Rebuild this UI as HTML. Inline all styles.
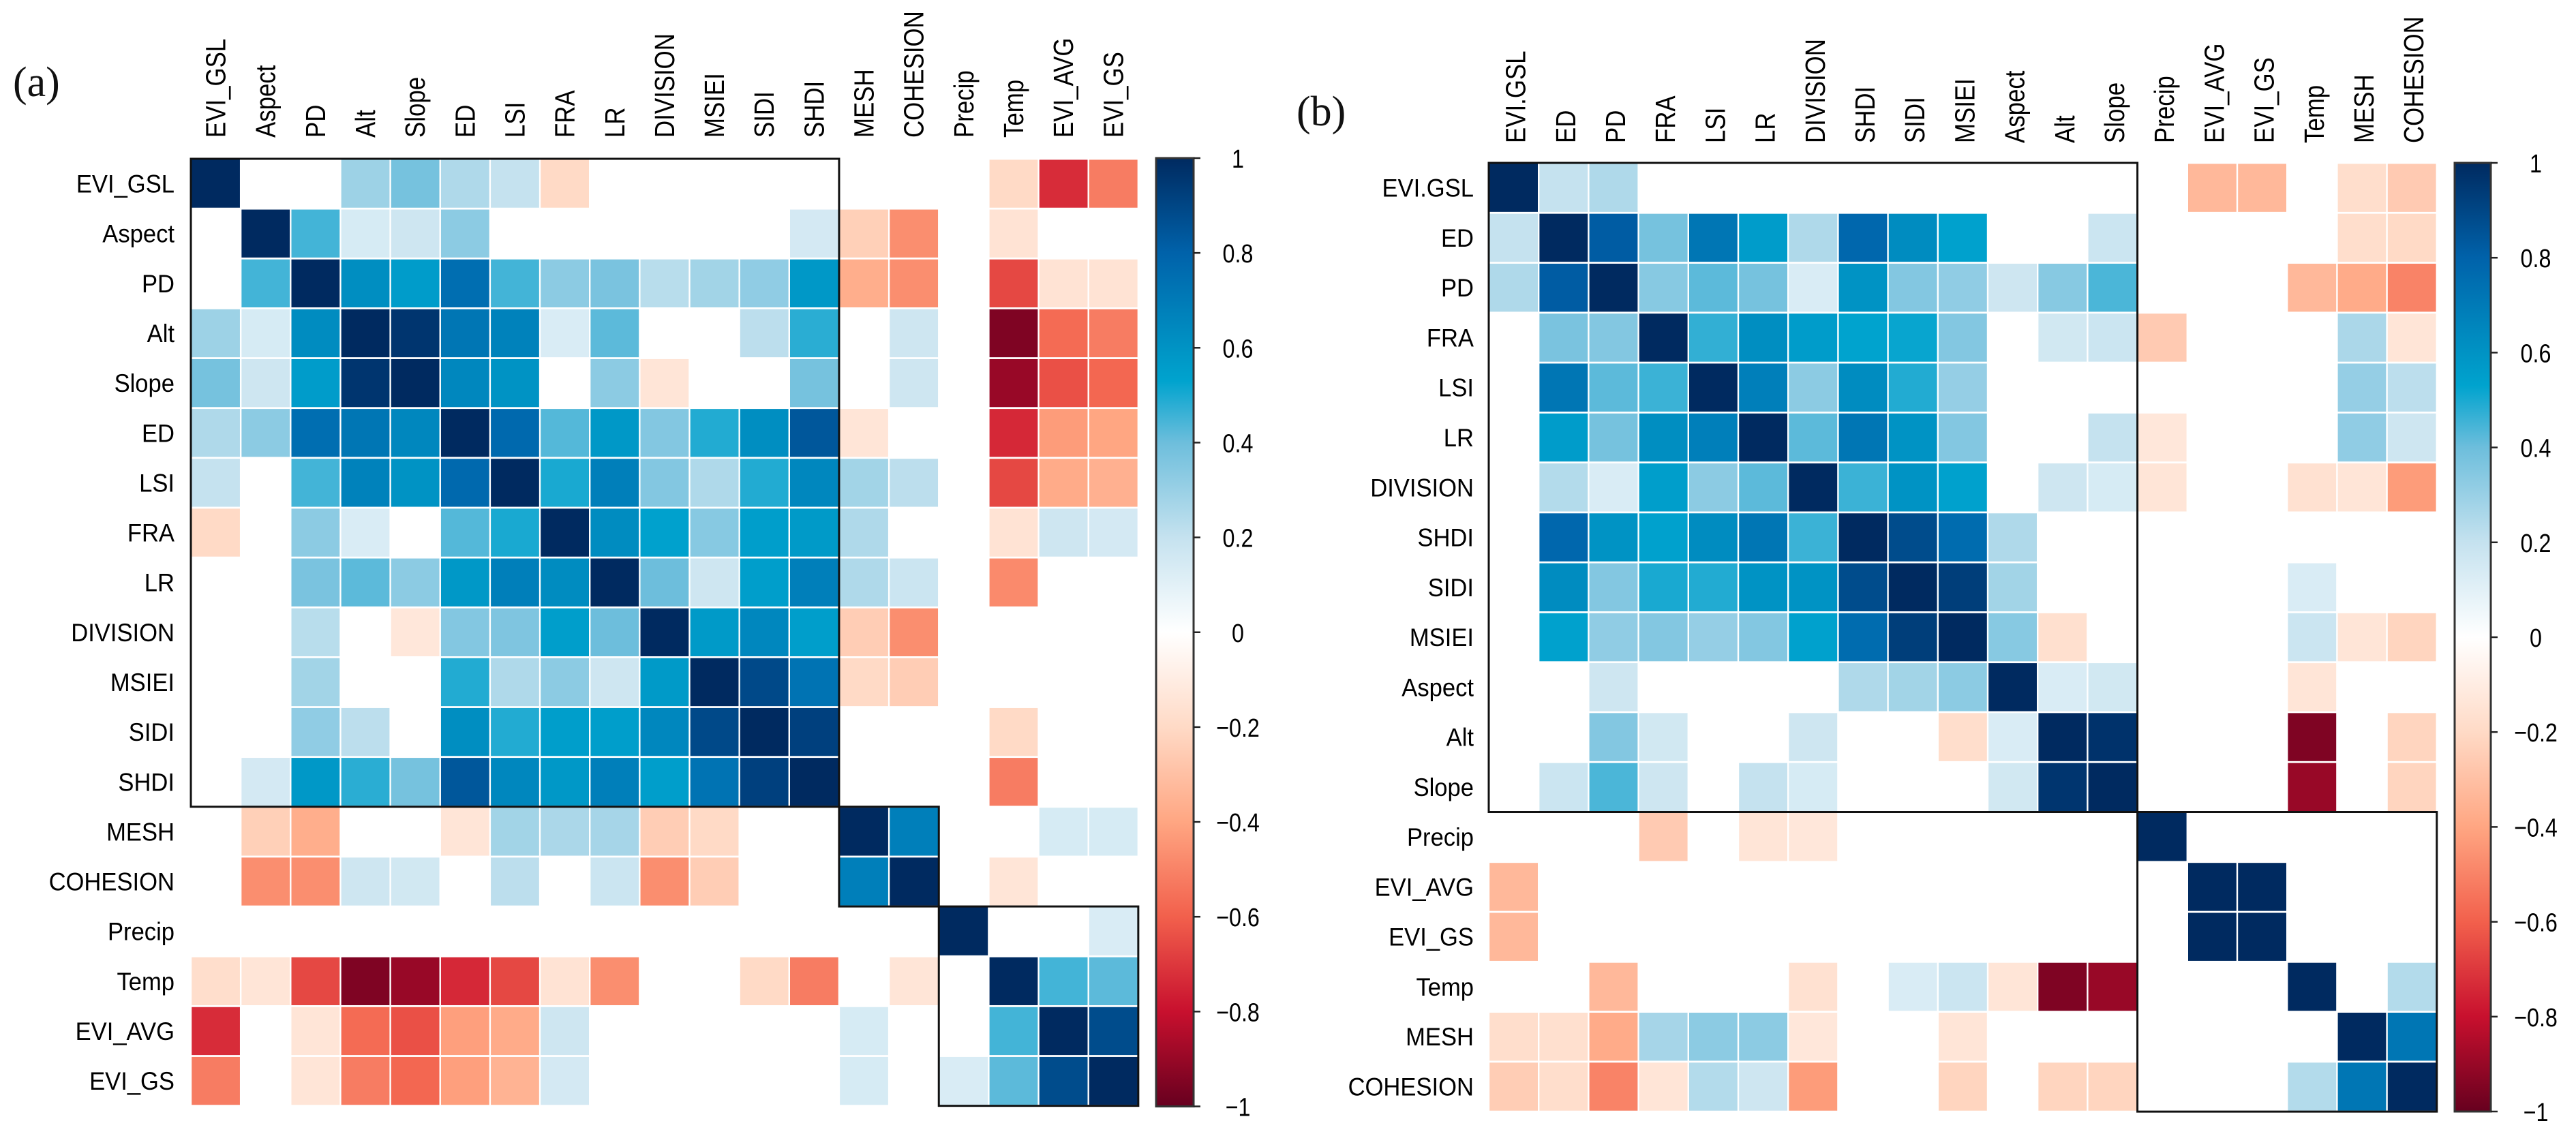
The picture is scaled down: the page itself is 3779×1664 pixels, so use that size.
<!DOCTYPE html>
<html lang="en">
<head>
<meta charset="utf-8">
<title>Correlation matrices (a) and (b)</title>
<style>
html,body{margin:0;padding:0;background:#fff;}
svg{display:block;font-family:"Liberation Sans",Arial,sans-serif;}
.panel{font-family:"Liberation Serif",serif;font-size:62px;fill:#111;}
</style>
</head>
<body>
<svg id="chart" xmlns="http://www.w3.org/2000/svg" width="3779" height="1664" viewBox="0 0 3779 1664">
  <rect x="0" y="0" width="3779" height="1664" fill="#fff"/>
  <text class="panel" x="19" y="141">(a)</text>
  <text class="panel" x="1902" y="184">(b)</text>
  <g id="panelA"></g>
  <g id="panelB"></g>
</svg>
<script>
const labelsA = ['EVI_GSL','Aspect','PD','Alt','Slope','ED','LSI','FRA','LR','DIVISION','MSIEI','SIDI','SHDI','MESH','COHESION','Precip','Temp','EVI_AVG','EVI_GS'];
const labelsBRows = ['EVI.GSL','ED','PD','FRA','LSI','LR','DIVISION','SHDI','SIDI','MSIEI','Aspect','Alt','Slope','Precip','EVI_AVG','EVI_GS','Temp','MESH','COHESION'];
const clusterSizesA = [13,2,4];
const clusterSizesB = [13,6];
const legendTicks = [1,0.8,0.6,0.4,0.2,0,-0.2,-0.4,-0.6,-0.8,-1];
const valuesA = [
[1,0,0,.29,.38,.25,.2,-.2,0,0,0,0,0,0,0,0,-.2,-.73,-.52],
[0,1,.45,.14,.17,.33,0,0,0,0,0,0,.15,-.24,-.47,0,-.15,0,0],
[0,.45,1,.62,.56,.75,.45,.33,.37,.23,.28,.32,.58,-.37,-.47,0,-.66,-.15,-.15],
[.29,.14,.63,1,.96,.72,.67,.13,.42,0,0,.22,.48,0,.17,0,-.95,-.57,-.52],
[.38,.17,.56,.96,1,.65,.6,0,.33,-.14,0,0,.38,0,.17,0,-.9,-.64,-.58],
[.25,.33,.75,.72,.65,1,.77,.43,.58,.35,.49,.62,.84,-.14,0,0,-.74,-.43,-.4],
[.2,0,.45,.67,.6,.77,1,.5,.68,.35,.25,.49,.65,.28,.22,0,-.66,-.38,-.36],
[-.2,0,.33,.13,0,.43,.5,1,.63,.54,.34,.55,.57,.25,0,0,-.15,.17,.15],
[0,0,.37,.42,.33,.58,.68,.63,1,.4,.17,.55,.68,.25,.18,0,-.48,0,0],
[0,0,.23,0,-.13,.35,.36,.55,.4,1,.57,.65,.55,-.25,-.47,0,0,0,0],
[0,0,.28,0,0,.49,.25,.33,.17,.57,1,.89,.73,-.2,-.25,0,0,0,0],
[0,0,.32,.22,0,.62,.49,.55,.55,.65,.89,1,.92,0,0,0,-.2,0,0],
[0,.15,.58,.48,.38,.84,.65,.58,.68,.55,.73,.92,1,0,0,0,-.52,0,0],
[0,-.24,-.37,0,0,-.14,.28,.26,.27,-.25,-.2,0,0,1,.68,0,0,.14,.14],
[0,-.47,-.47,.17,.16,0,.22,0,.18,-.47,-.25,0,0,.68,1,0,-.14,0,0],
[0,0,0,0,0,0,0,0,0,0,0,0,0,0,0,1,0,0,.13],
[-.18,-.14,-.66,-.95,-.9,-.74,-.66,-.15,-.47,0,0,-.2,-.52,0,-.14,0,1,.45,.42],
[-.73,0,-.14,-.57,-.64,-.42,-.38,.17,0,0,0,0,0,.14,0,0,.45,1,.88],
[-.52,0,-.14,-.52,-.58,-.42,-.35,.15,0,0,0,0,0,.14,0,.13,.42,.88,1]
];
const valuesB = [
[1,.2,.25,0,0,0,0,0,0,0,0,0,0,0,-.33,-.33,0,-.18,-.26],
[.2,1,.82,.38,.72,.56,.25,.78,.63,.54,0,0,.18,0,0,0,0,-.18,-.2],
[.25,.82,1,.34,.42,.38,.13,.6,.35,.32,.17,.34,.44,0,0,0,-.33,-.38,-.5],
[0,.37,.35,1,.47,.62,.56,.53,.52,.35,0,.16,.18,-.26,0,0,0,.26,-.14],
[0,.72,.42,.46,1,.68,.33,.63,.49,.31,0,0,0,0,0,0,0,.31,.22],
[0,.56,.38,.62,.68,1,.42,.72,.6,.35,0,0,.2,-.13,0,0,0,.32,.17],
[0,.24,.13,.55,.33,.42,1,.46,.6,.54,0,.17,.14,-.14,0,0,-.16,-.14,-.43],
[0,.78,.6,.54,.63,.72,.46,1,.88,.76,.25,0,0,0,0,0,0,0,0],
[0,.63,.35,.5,.49,.6,.6,.88,1,.93,.28,0,0,0,0,0,.13,0,0],
[0,.54,.32,.35,.31,.35,.54,.76,.93,1,.34,-.17,0,0,0,0,.18,-.14,-.22],
[0,0,.17,0,0,0,0,.25,.28,.33,1,.13,.16,0,0,0,-.14,0,0],
[0,0,.35,.16,0,0,.17,0,0,-.18,.13,1,.97,0,0,0,-.95,0,-.22],
[0,.18,.44,.17,0,.2,.14,0,0,0,.16,.96,1,0,0,0,-.9,0,-.22],
[0,0,0,-.26,0,-.14,-.13,0,0,0,0,0,0,1,0,0,0,0,0],
[-.33,0,0,0,0,0,0,0,0,0,0,0,0,0,1,1,0,0,0],
[-.33,0,0,0,0,0,0,0,0,0,0,0,0,0,1,1,0,0,0],
[0,0,-.33,0,0,0,-.16,0,.13,.18,-.14,-.95,-.9,0,0,0,1,0,.24],
[-.18,-.17,-.38,.27,.33,.33,-.13,0,0,-.14,0,0,0,0,0,0,0,1,.72],
[-.25,-.18,-.5,-.14,.24,.17,-.43,0,0,-.22,0,-.22,-.22,0,0,0,.24,.72,1]
];

/* colour scale */
const rampValues = [1,.8,.6,.53,.4,.2,0,-.2,-.4,-.6,-.8,-1];
const rampColors = ['#002A60','#0062AA','#0093C4','#00A3CE','#6DBEDC','#C5E2EF','#FFFFFF','#FFDAC6','#FFA682','#F2604C','#C8102E','#67001F'];
function hexToRgb(h){return [1,3,5].map(function(i){return parseInt(h.substr(i,2),16);});}
function colorFor(v){
  for(let i=0;i<rampValues.length-1;i++){
    const hi=rampValues[i],lo=rampValues[i+1];
    if(v<=hi&&v>=lo){
      const t=(hi-v)/(hi-lo),a=hexToRgb(rampColors[i]),b=hexToRgb(rampColors[i+1]);
      return 'rgb('+a.map(function(c,k){return Math.round(c+(b[k]-c)*t);}).join(',')+')';
    }
  }
  return '#fff';
}
const NS='http://www.w3.org/2000/svg';
function fmtTick(v){return (v<0?'\u2212':'')+String(Math.abs(v));}

function drawPanel(opts){
  const root=document.getElementById(opts.id);
  const xScale=function(i){return opts.x0+i*opts.cw;};
  const yScale=function(i){return opts.y0+i*opts.ch;};
  /* row labels */
  opts.rows.forEach(function(lab,r){
    const t=document.createElementNS(NS,'text');
    
    
    t.setAttribute('transform','translate('+opts.rowRight+','+(yScale(r)+opts.ch/2+13)+') scale(.935,1)');
    t.setAttribute('text-anchor','end');
    t.setAttribute('font-size','37');
    t.setAttribute('fill','#000');
    t.textContent=lab;
    root.appendChild(t);
  });
  /* column labels */
  opts.cols.forEach(function(lab,c){
    const t=document.createElementNS(NS,'text');
    
    
    t.setAttribute('transform','translate('+(xScale(c)+opts.cw/2+opts.colShift)+','+opts.colBottom+') rotate(-90) scale(.85,1)');
    t.setAttribute('font-size','41');
    t.setAttribute('fill','#000');
    t.textContent=lab;
    root.appendChild(t);
  });
  /* cells */
  opts.values.forEach(function(row,r){
    row.forEach(function(v,c){
      if(v===0)return;
      const q=document.createElementNS(NS,'rect');
      
      
      q.setAttribute('x',xScale(c)+1.2);
      q.setAttribute('y',yScale(r)+1.4);
      q.setAttribute('width',opts.cw-2.4);
      q.setAttribute('height',opts.ch-2.8);
      q.setAttribute('fill',colorFor(v));
      root.appendChild(q);
    });
  });
  /* cluster rectangles */
  let start=0;
  opts.clusters.forEach(function(size){
    const b=document.createElementNS(NS,'rect');
    
    
    b.setAttribute('x',xScale(start));
    b.setAttribute('y',yScale(start));
    b.setAttribute('width',opts.cw*size);
    b.setAttribute('height',opts.ch*size);
    b.setAttribute('fill','none');
    b.setAttribute('stroke','#111');
    b.setAttribute('stroke-width','3');
    root.appendChild(b);
    start+=size;
  });
  /* colour bar */
  const gradId=opts.id+'Grad';
  const defs=document.createElementNS(NS,'defs');
  const grad=document.createElementNS(NS,'linearGradient');
  grad.setAttribute('id',gradId);
  grad.setAttribute('x1','0');grad.setAttribute('y1','0');
  grad.setAttribute('x2','0');grad.setAttribute('y2','1');
  rampValues.forEach(function(v,i){
    const s=document.createElementNS(NS,'stop');
    s.setAttribute('offset',(1-v)/2);
    s.setAttribute('stop-color',rampColors[i]);
    grad.appendChild(s);
  });
  defs.appendChild(grad);
  root.appendChild(defs);
  const barY=function(v){return opts.barTop+(1-v)/2*(opts.barBottom-opts.barTop);};
  const bar=document.createElementNS(NS,'rect');
  
  
  bar.setAttribute('x',opts.barLeft);
  bar.setAttribute('y',opts.barTop);
  bar.setAttribute('width',opts.barRight-opts.barLeft);
  bar.setAttribute('height',opts.barBottom-opts.barTop);
  bar.setAttribute('fill','url(#'+gradId+')');
  bar.setAttribute('stroke','#333');
  bar.setAttribute('stroke-width','3');
  root.appendChild(bar);
  legendTicks.forEach(function(v){
    const k=document.createElementNS(NS,'line');
    
    
    k.setAttribute('x1',opts.barRight);
    k.setAttribute('x2',opts.barRight+10);
    k.setAttribute('y1',barY(v));
    k.setAttribute('y2',barY(v));
    k.setAttribute('stroke','#222');
    k.setAttribute('stroke-width','2.5');
    root.appendChild(k);
    const t=document.createElementNS(NS,'text');
    
    
    t.setAttribute('transform','translate('+opts.tickLabelX+','+(barY(v)+14)+') scale(.85,1)');
    t.setAttribute('text-anchor','middle');
    t.setAttribute('font-size','38');
    t.setAttribute('fill','#000');
    t.textContent=fmtTick(v);
    root.appendChild(t);
  });
}

drawPanel({id:'panelA',rows:labelsA,cols:labelsA,values:valuesA,clusters:clusterSizesA,
  x0:280,y0:233,cw:73.15,ch:73.14,rowRight:256,colBottom:202,colShift:14,
  barLeft:1696,barRight:1751,barTop:232,barBottom:1623.5,tickLabelX:1816});
drawPanel({id:'panelB',rows:labelsBRows,cols:labelsBRows,values:valuesB,clusters:clusterSizesB,
  x0:2184,y0:239,cw:73.2,ch:73.27,rowRight:2162,colBottom:210,colShift:17,
  barLeft:3601,barRight:3654,barTop:239,barBottom:1631,tickLabelX:3720});
</script>
</body>
</html>
